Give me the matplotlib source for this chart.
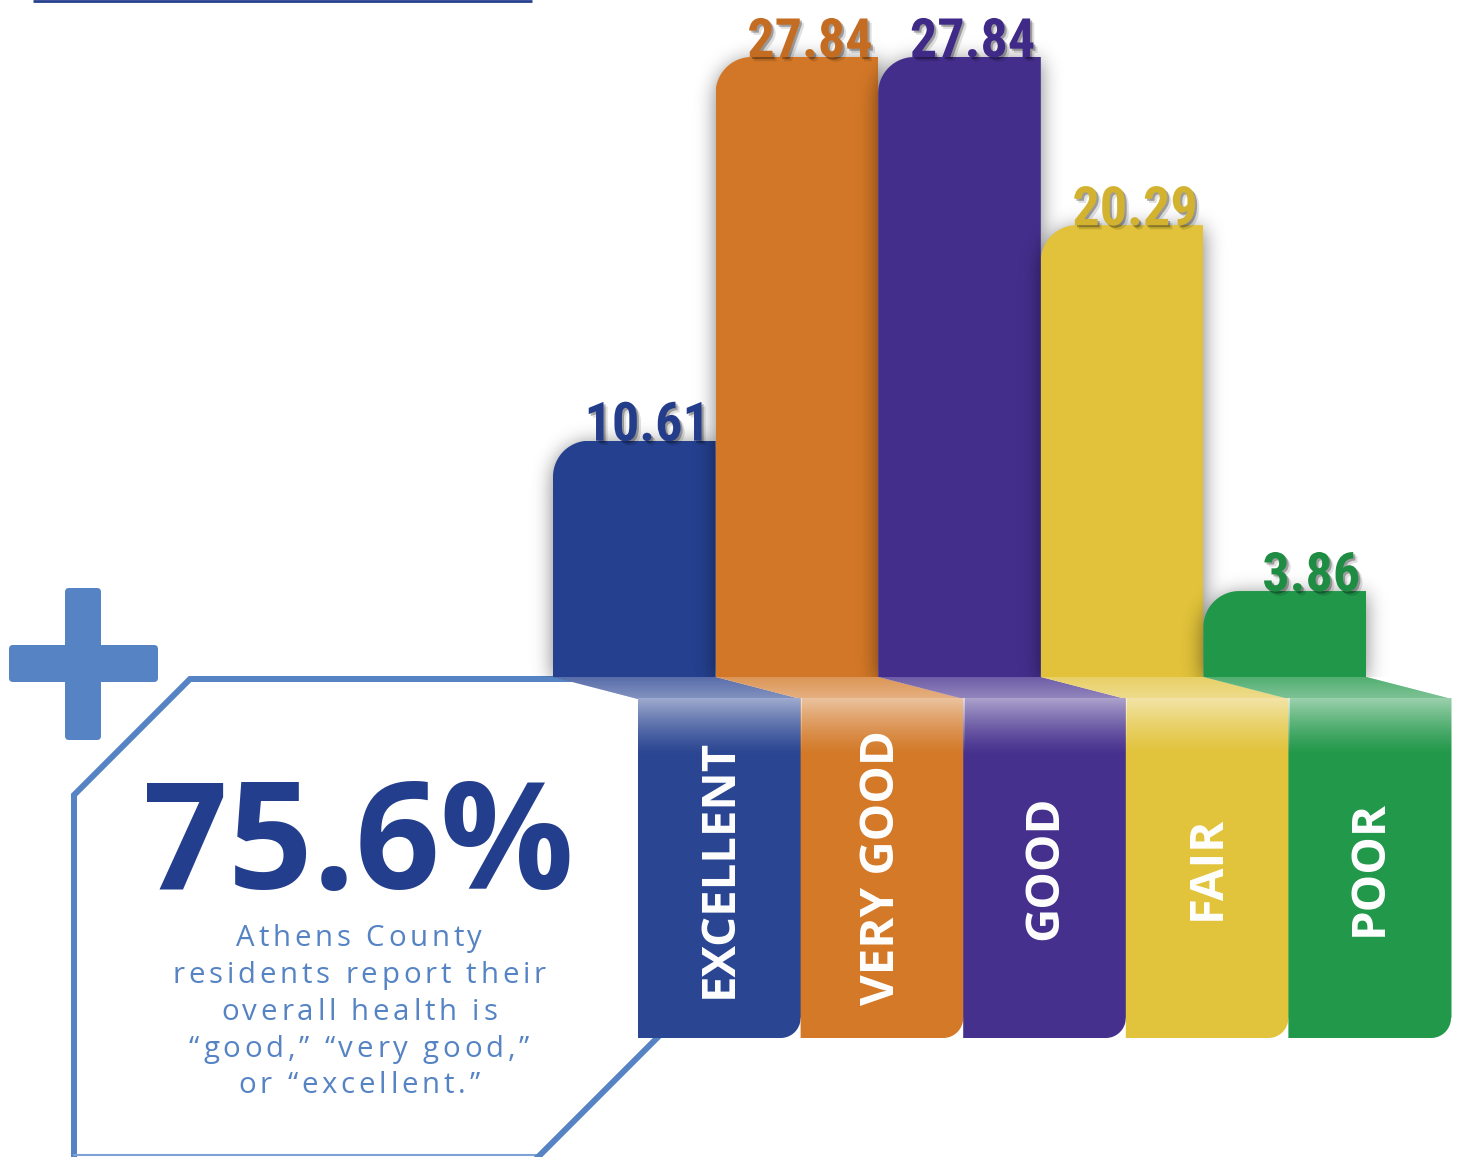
import numpy as np
import matplotlib
matplotlib.use("Agg")
import matplotlib.pyplot as plt
from matplotlib.patches import Polygon, FancyBboxPatch
from matplotlib.path import Path
import matplotlib.patheffects as pe
from matplotlib import font_manager
from matplotlib.ft2font import FT2Font

# ---------------- data ----------------
categories = ["EXCELLENT", "VERY GOOD", "GOOD", "FAIR", "POOR"]
values = [10.61, 27.84, 27.84, 20.29, 3.86]
value_labels = ["10.61", "27.84", "27.84", "20.29", "3.86"]
headline = "75.6%"
caption_lines = ["Athens County",
                 "residents report their",
                 "overall health is",
                 "\u201cgood,\u201d \u201cvery good,\u201d",
                 "or \u201cexcellent.\u201d"]

# ---------------- styles ----------------
bar_colors = ["#24408e", "#d27727", "#442e8c", "#e1c23a", "#21974a"]
label_colors = ["#233d8a", "#c46c22", "#3f2a88", "#d2b22f", "#1f8c44"]
tab_colors = ["#2a4592", "#d37928", "#46308e", "#e2c33c", "#22984a"]
accent = "#5583c4"
dark_blue = "#233e8c"

names = {f.name for f in font_manager.fontManager.ttflist}
if "Liberation Sans Narrow" in names:
    val_family = "Liberation Sans Narrow"
elif "Roboto Condensed" in names:
    val_family = "Roboto Condensed"
else:
    val_family = "DejaVu Sans"

W, H, DPI = 1458, 1157, 100
fig = plt.figure(figsize=(W / DPI, H / DPI), dpi=DPI)
fig.patch.set_facecolor("white")

bg = fig.add_axes([0, 0, 1, 1])
bg.set_xlim(0, W)
bg.set_ylim(H, 0)
bg.axis("off")

# ---------------- bar axes ----------------
PX_X = 162.6     # pixels per category
PX_Y = 22.27     # pixels per value unit
BASE_Y = 677
YMAX = 30
ax_left = 553 - 0.3 * PX_X
ax = fig.add_axes([ax_left / W, (H - BASE_Y) / H, 5.6 * PX_X / W, YMAX * PX_Y / H])
ax.axis("off")

xs = np.arange(len(values))
bars = ax.bar(xs, values, width=1.0, color=bar_colors, linewidth=0)

R = 36
rx, ry = R / PX_X, R / PX_Y
M = 40
SIG = 10


def blur(a, s):
    k = np.arange(-3 * s, 3 * s + 1)
    g = np.exp(-k ** 2 / (2.0 * s * s))
    g /= g.sum()
    a = np.apply_along_axis(lambda r: np.convolve(r, g, mode="same"), 0, a)
    a = np.apply_along_axis(lambda r: np.convolve(r, g, mode="same"), 1, a)
    return a


for i, (b, v) in enumerate(zip(bars, values)):
    x0 = b.get_x()
    x1 = x0 + b.get_width()
    t = np.linspace(np.pi / 2, np.pi, 24)
    cx, cy = x0 + rx, v - ry
    arc = np.column_stack([cx + rx * np.cos(t), cy + ry * np.sin(t)])
    verts = np.vstack([[x0, 0], [x1, 0], [x1, v], arc, [x0, 0]])
    b.set_clip_path(Path(verts), ax.transData)
    b.set_zorder(2 + 2 * i)

    # soft shadow
    bw = int(round(PX_X))
    bh = int(round(v * PX_Y))
    mask = np.zeros((bh + 2 * M, bw + 2 * M))
    mask[M:M + bh, M:M + bw] = 1.0
    yy, xx = np.mgrid[0:R, 0:R]
    corner = (xx - R) ** 2 + (yy - R) ** 2 > R ** 2
    sub = mask[M:M + R, M:M + R]
    sub[corner] = 0
    sh = blur(mask, SIG)
    rgba = np.zeros(mask.shape + (4,))
    rgba[..., 3] = 0.5 * sh
    mx, my = M / PX_X, M / PX_Y
    off = 3 / PX_Y
    ax.imshow(rgba, extent=[x0 - mx, x1 + mx, -my - off, v + my - off],
              origin="upper", aspect="auto", interpolation="bilinear",
              zorder=1 + 2 * i)

for i, (v, lab) in enumerate(zip(values, value_labels)):
    ax.text(i + 0.5 - 0.035, v, lab, ha="right", va="baseline",
            fontsize=39, fontweight="bold", family=val_family,
            fontstretch="condensed", color=label_colors[i], zorder=30,
            path_effects=[pe.SimplePatchShadow(offset=(3, -3),
                                               shadow_rgbFace="#000000",
                                               alpha=0.12),
                          pe.SimplePatchShadow(offset=(1.5, -1.5),
                                               shadow_rgbFace="#000000",
                                               alpha=0.3),
                          pe.Normal()])

ax.set_xlim(-0.8, 4.8)
ax.set_ylim(0, YMAX)

# ---------------- decorations (pixel axes) ----------------
bg.plot([33, 532], [1, 1], color="#27408e", lw=2, solid_capstyle="butt")

# plus sign
bg.add_patch(FancyBboxPatch((65, 588), 36, 152,
                            boxstyle="round,pad=0,rounding_size=4",
                            facecolor=accent, edgecolor="none", zorder=2))
bg.add_patch(FancyBboxPatch((9, 645), 149, 37,
                            boxstyle="round,pad=0,rounding_size=4",
                            facecolor=accent, edgecolor="none", zorder=2))

# outline box
bg.plot([585, 190, 74, 74], [679, 679, 795, 1165], color=accent, lw=4.3,
        solid_joinstyle="miter", zorder=3)
bg.plot([74, 537], [1155, 1155], color="#7da0d6", lw=1.5, zorder=3)
bg.plot([668, 533], [1027, 1162], color=accent, lw=4.3, zorder=3)

# tabs
SLANT_DX, SLANT_DY = 85, 21
TAB_BOTTOM = 1038
TR = 20
for i, b in enumerate(bars):
    dx0, dy0 = ax.transData.transform((b.get_x(), 0))
    dx1, _ = ax.transData.transform((b.get_x() + b.get_width(), 0))
    bx0, bx1, by = dx0, dx1, H - dy0
    tx0, tx1, ty = bx0 + SLANT_DX, bx1 + SLANT_DX, by + SLANT_DY

    slant = Polygon([(bx0, by), (bx1 + 0.5, by), (tx1 + 0.5, ty + 1), (tx0, ty + 1)],
                    closed=True, facecolor=tab_colors[i], edgecolor="none", zorder=5)
    bg.add_patch(slant)
    g = np.zeros((40, 2, 4))
    g[..., :3] = 1.0
    g[..., 3] = np.linspace(0.22, 0.42, 40)[:, None]
    im = bg.imshow(g, extent=[bx0, tx1 + 1, ty + 1, by], origin="upper",
                   aspect="auto", interpolation="bilinear", zorder=6)
    im.set_clip_path(slant)

    t = np.linspace(0, np.pi / 2, 20)
    cx, cy = tx1 - TR, TAB_BOTTOM - TR
    arc = np.column_stack([cx + TR * np.cos(t), cy + TR * np.sin(t)])
    verts = np.vstack([[tx0, ty], [tx1 + 0.5, ty], [tx1 + 0.5, cy], arc, [tx0, TAB_BOTTOM]])
    tab = Polygon(verts, closed=True, facecolor=tab_colors[i], edgecolor="none", zorder=7)
    bg.add_patch(tab)
    g2 = np.zeros((60, 2, 4))
    g2[..., :3] = 1.0
    g2[..., 3] = (np.linspace(1, 0, 60) ** 1.3 * 0.55)[:, None]
    bg.imshow(g2, extent=[tx0, tx1 + 0.5, ty + 58, ty], origin="upper",
              aspect="auto", interpolation="bilinear", zorder=8)

    bg.text((tx0 + tx1) / 2, (ty + TAB_BOTTOM) / 2, categories[i], rotation=90,
            ha="center", va="center", color="white", fontsize=34,
            fontweight="bold", family="Open Sans", zorder=9)

# headline
bg.text(359, 889, headline, ha="center", va="baseline", fontsize=107,
        fontweight="bold", family="Open Sans", color=dark_blue, zorder=4)

# letter-spaced caption
cap_font = font_manager.findfont(font_manager.FontProperties(family="Open Sans"))
ft = FT2Font(cap_font)
CAP_PT = 21.2
ft.set_size(CAP_PT, DPI)
TRACK = 3.8


def spaced_text(cx, baseline, s):
    adv = []
    for c in s:
        gl = ft.load_char(ord(c))
        adv.append(gl.linearHoriAdvance / 65536.0)
    total = sum(adv) + TRACK * (len(s) - 1)
    x = cx - total / 2.0
    for c, a in zip(s, adv):
        if c != " ":
            bg.text(x, baseline, c, ha="left", va="baseline",
                    fontsize=CAP_PT, family="Open Sans", color=accent, zorder=4)
        x += a + TRACK


baselines = [946, 983, 1020, 1057, 1093]
for line, yb in zip(caption_lines, baselines):
    spaced_text(359, yb, line)

fig.savefig("out.png", dpi=DPI, facecolor="white")
